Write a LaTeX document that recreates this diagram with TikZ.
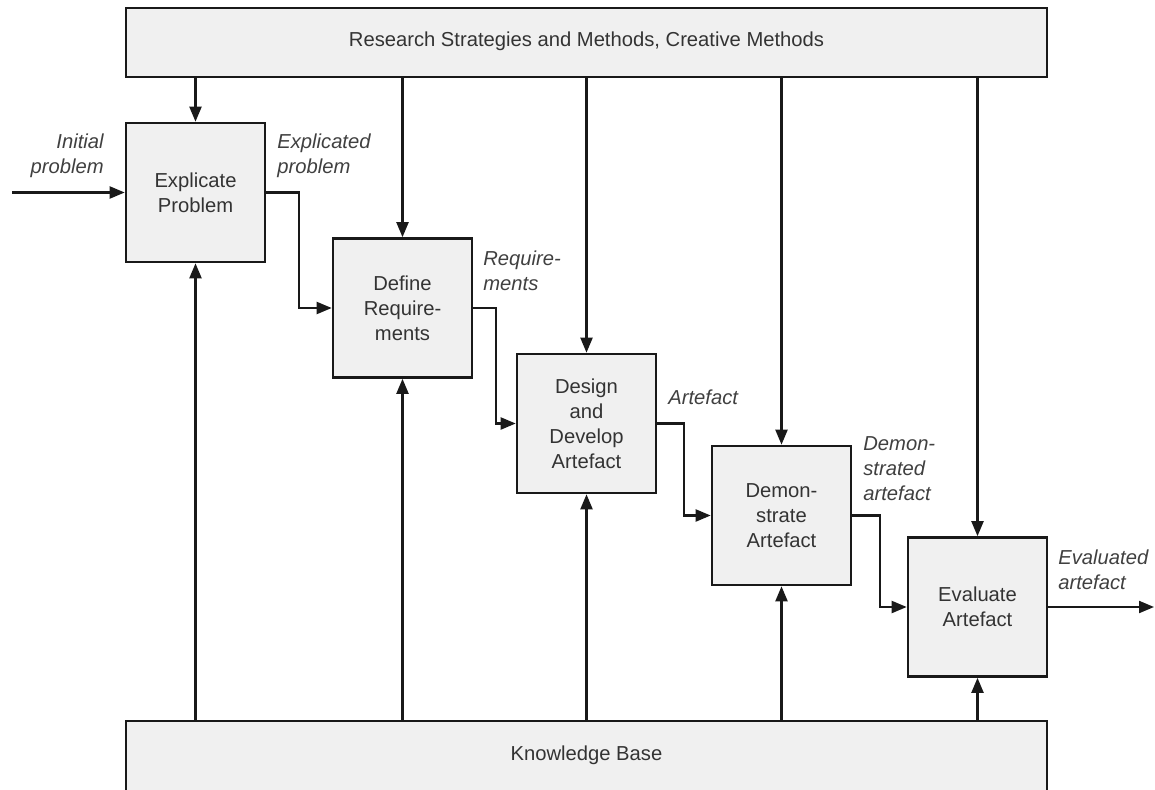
\documentclass[tikz,border=0pt]{standalone}
\usepackage{fontspec}
\setmainfont{Liberation Sans}
\usetikzlibrary{positioning}
\usetikzlibrary{arrows.meta}

\tikzset{
  stage/.style={draw=black!90, line width=1.5pt, fill=black!6, minimum width=2.78cm, minimum height=2.78cm,
                align=center, text=black!80, font=\fontsize{11.5}{14.2}\selectfont},
  bar/.style={draw=black!90, line width=1.5pt, fill=black!6, minimum width=18.42cm, inner sep=0pt},
  flow/.style={line width=1.2pt, draw=black!90, -{Triangle[length=3mm,width=2.4mm]}},
  tag/.style={font=\fontsize{11.5}{14.2}\selectfont\itshape, text=black!75, inner sep=0pt},
  plain/.style={font=\fontsize{11.5}{14.2}\selectfont, text=black!80, inner sep=0pt},
}

\begin{document}
\begin{tikzpicture}
  \useasboundingbox (0,0) rectangle (23.1,15.78);
  \clip (0,0) rectangle (23.1,15.78);

  % bars
  \node[bar, minimum height=1.38cm] (rs) at (11.73,14.93) {};
  \node[plain] (rstext) at (11.73,14.95) {Research Strategies and Methods, Creative Methods};
  \node[bar, minimum height=1.6cm] (kb) at (11.73,0.56) {};
  \node[plain] (kbtext) at (11.73,0.68) {Knowledge Base};

  % stages
  \node[stage] (ep) at (3.91,11.93) {Explicate\\Problem};
  \node[stage] (dr) at (8.05,9.62) {Define\\Require-\\ments};
  \node[stage] (dd) at (11.73,7.31) {Design\\and\\Develop\\Artefact};
  \node[stage] (da) at (15.63,5.47) {Demon-\\strate\\Artefact};
  \node[stage] (ea) at (19.55,3.64) {Evaluate\\Artefact};

  \coordinate (in) at (0.24,11.93);
  \coordinate (out) at (23.08,3.64);

  % methods and knowledge
  \foreach \s in {ep,dr,dd,da,ea} {
    \draw[flow] (rs.south -| \s.north) -- (\s.north);
    \draw[flow] (kb.north -| \s.south) -- (\s.south);
  }

  % flow between stages
  \draw[flow] (in) -- (ep.west);
  \draw[flow] (ep.east) -- ++(0.66,0) |- (dr.west);
  \draw[flow] (dr.east) -- ++(0.46,0) |- (dd.west);
  \draw[flow] (dd.east) -- ++(0.54,0) |- (da.west);
  \draw[flow] (da.east) -- ++(0.56,0) |- (ea.west);
  \draw[flow] (ea.east) -- (out);

  % labels
  \node[tag, anchor=east, align=right] (lin) at (2.08,12.67) {Initial\\problem};
  \node[tag, anchor=west, align=left] (lep) at (5.54,12.67) {Explicated\\problem};
  \node[tag, anchor=west, align=left] (ldr) at (9.66,10.37) {Require-\\ments};
  \node[tag, anchor=west, align=left] (ldd) at (13.36,7.84) {Artefact};
  \node[tag, anchor=west, align=left] (lda) at (17.26,6.40) {Demon-\\strated\\artefact};
  \node[tag, anchor=west, align=left] (lea) at (21.16,4.38) {Evaluated\\artefact};
\end{tikzpicture}
\end{document}
